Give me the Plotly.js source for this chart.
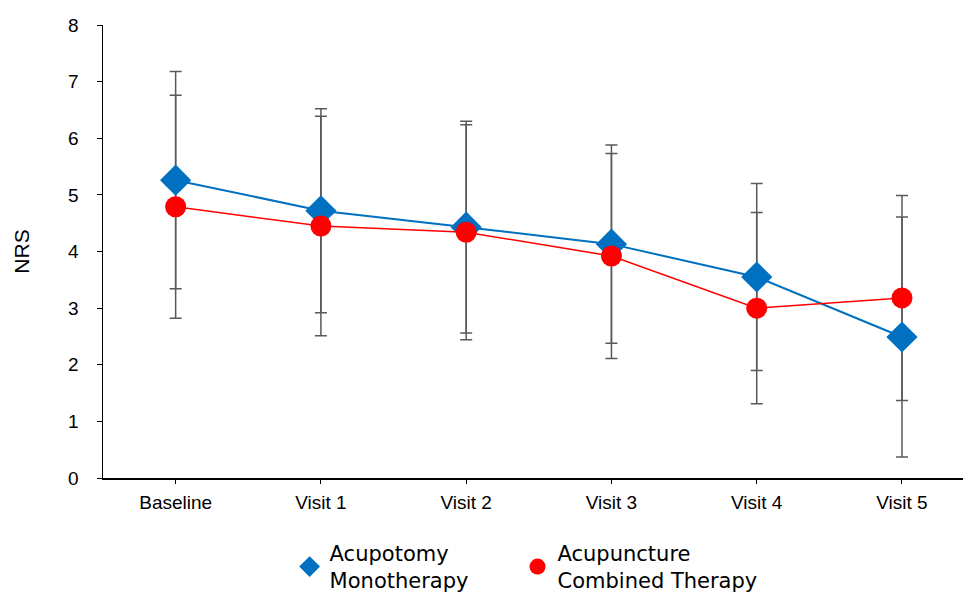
<!DOCTYPE html>
<html>
<head>
<meta charset="utf-8">
<script src="https://cdn.plot.ly/plotly-3.0.1.min.js"></script>
<style>html,body{margin:0;padding:0;background:#fff;}#chart{width:963px;height:596px;}</style>
</head>
<body>
<div id="chart"></div>
<script>
const categories = ["Baseline", "Visit 1", "Visit 2", "Visit 3", "Visit 4", "Visit 5"];
const monoMean = [5.26, 4.72, 4.43, 4.13, 3.55, 2.49];
const monoSD = [1.92, 1.80, 1.87, 1.75, 1.65, 2.12];
const combMean = [4.79, 4.45, 4.34, 3.92, 3.00, 3.18];
const combSD = [1.97, 1.94, 1.90, 1.81, 1.69, 1.81];
const monoName = "Acupotomy<br>Monotherapy";
const combName = "Acupuncture<br>Combined Therapy";

const errStyle = {color: "#595959", thickness: 1.5, width: 6};

const traces = [
  {x: categories, y: monoMean, mode: "markers", marker: {opacity: 0, size: 1},
   error_y: Object.assign({type: "data", array: monoSD, visible: true}, errStyle),
   showlegend: false, hoverinfo: "skip"},
  {x: categories, y: combMean, mode: "markers", marker: {opacity: 0, size: 1},
   error_y: Object.assign({type: "data", array: combSD, visible: true}, errStyle),
   showlegend: false, hoverinfo: "skip"},
  {x: categories, y: monoMean, mode: "lines+markers", name: monoName, showlegend: false,
   line: {color: "#0070C0", width: 2},
   marker: {symbol: "diamond", size: 24, color: "#0070C0"}},
  {x: categories, y: combMean, mode: "lines+markers", name: combName, showlegend: false,
   line: {color: "#FF0000", width: 1.5},
   marker: {symbol: "circle", size: 21, color: "#FF0000"}},
  {x: [null], y: [null], mode: "markers", name: monoName, legend: "legend",
   marker: {symbol: "diamond", size: 24, color: "#0070C0"}},
  {x: [null], y: [null], mode: "markers", name: combName, legend: "legend2",
   marker: {symbol: "circle", size: 24, color: "#FF0000"}}
];

const legendFont = {family: "DejaVu Sans, sans-serif", size: 21, color: "#000"};

const layout = {
  width: 963, height: 596,
  margin: {l: 103, r: 0, t: 25, b: 118, autoexpand: false},
  paper_bgcolor: "#fff", plot_bgcolor: "#fff",
  font: {family: "Liberation Sans, Arial, sans-serif", size: 19, color: "#000"},
  xaxis: {
    type: "category", range: [-0.5, 5.42],
    showline: true, linecolor: "#000", linewidth: 1.5,
    ticks: "outside", ticklen: 4, tickcolor: "#000", tickwidth: 1,
    showgrid: false, zeroline: false,
    tickfont: {size: 19}, ticklabelstandoff: 3
  },
  yaxis: {
    range: [0, 8], dtick: 1,
    showline: true, linecolor: "#000", linewidth: 1.5,
    ticks: "outside", ticklen: 5, tickcolor: "#000", tickwidth: 1,
    showgrid: false, zeroline: false,
    tickfont: {size: 19}, ticklabelstandoff: 14,
    title: {text: "NRS", font: {size: 21}, standoff: 33}
  },
  legend: {
    x: 0.217, xanchor: "left", y: -0.121, yanchor: "top",
    font: legendFont, itemsizing: "trace", bgcolor: "rgba(0,0,0,0)"
  },
  legend2: {
    x: 0.482, xanchor: "left", y: -0.121, yanchor: "top",
    font: legendFont, itemsizing: "trace", bgcolor: "rgba(0,0,0,0)"
  },
  showlegend: true
};

Plotly.newPlot("chart", traces, layout, {displayModeBar: false, staticPlot: true});
</script>
</body>
</html>
